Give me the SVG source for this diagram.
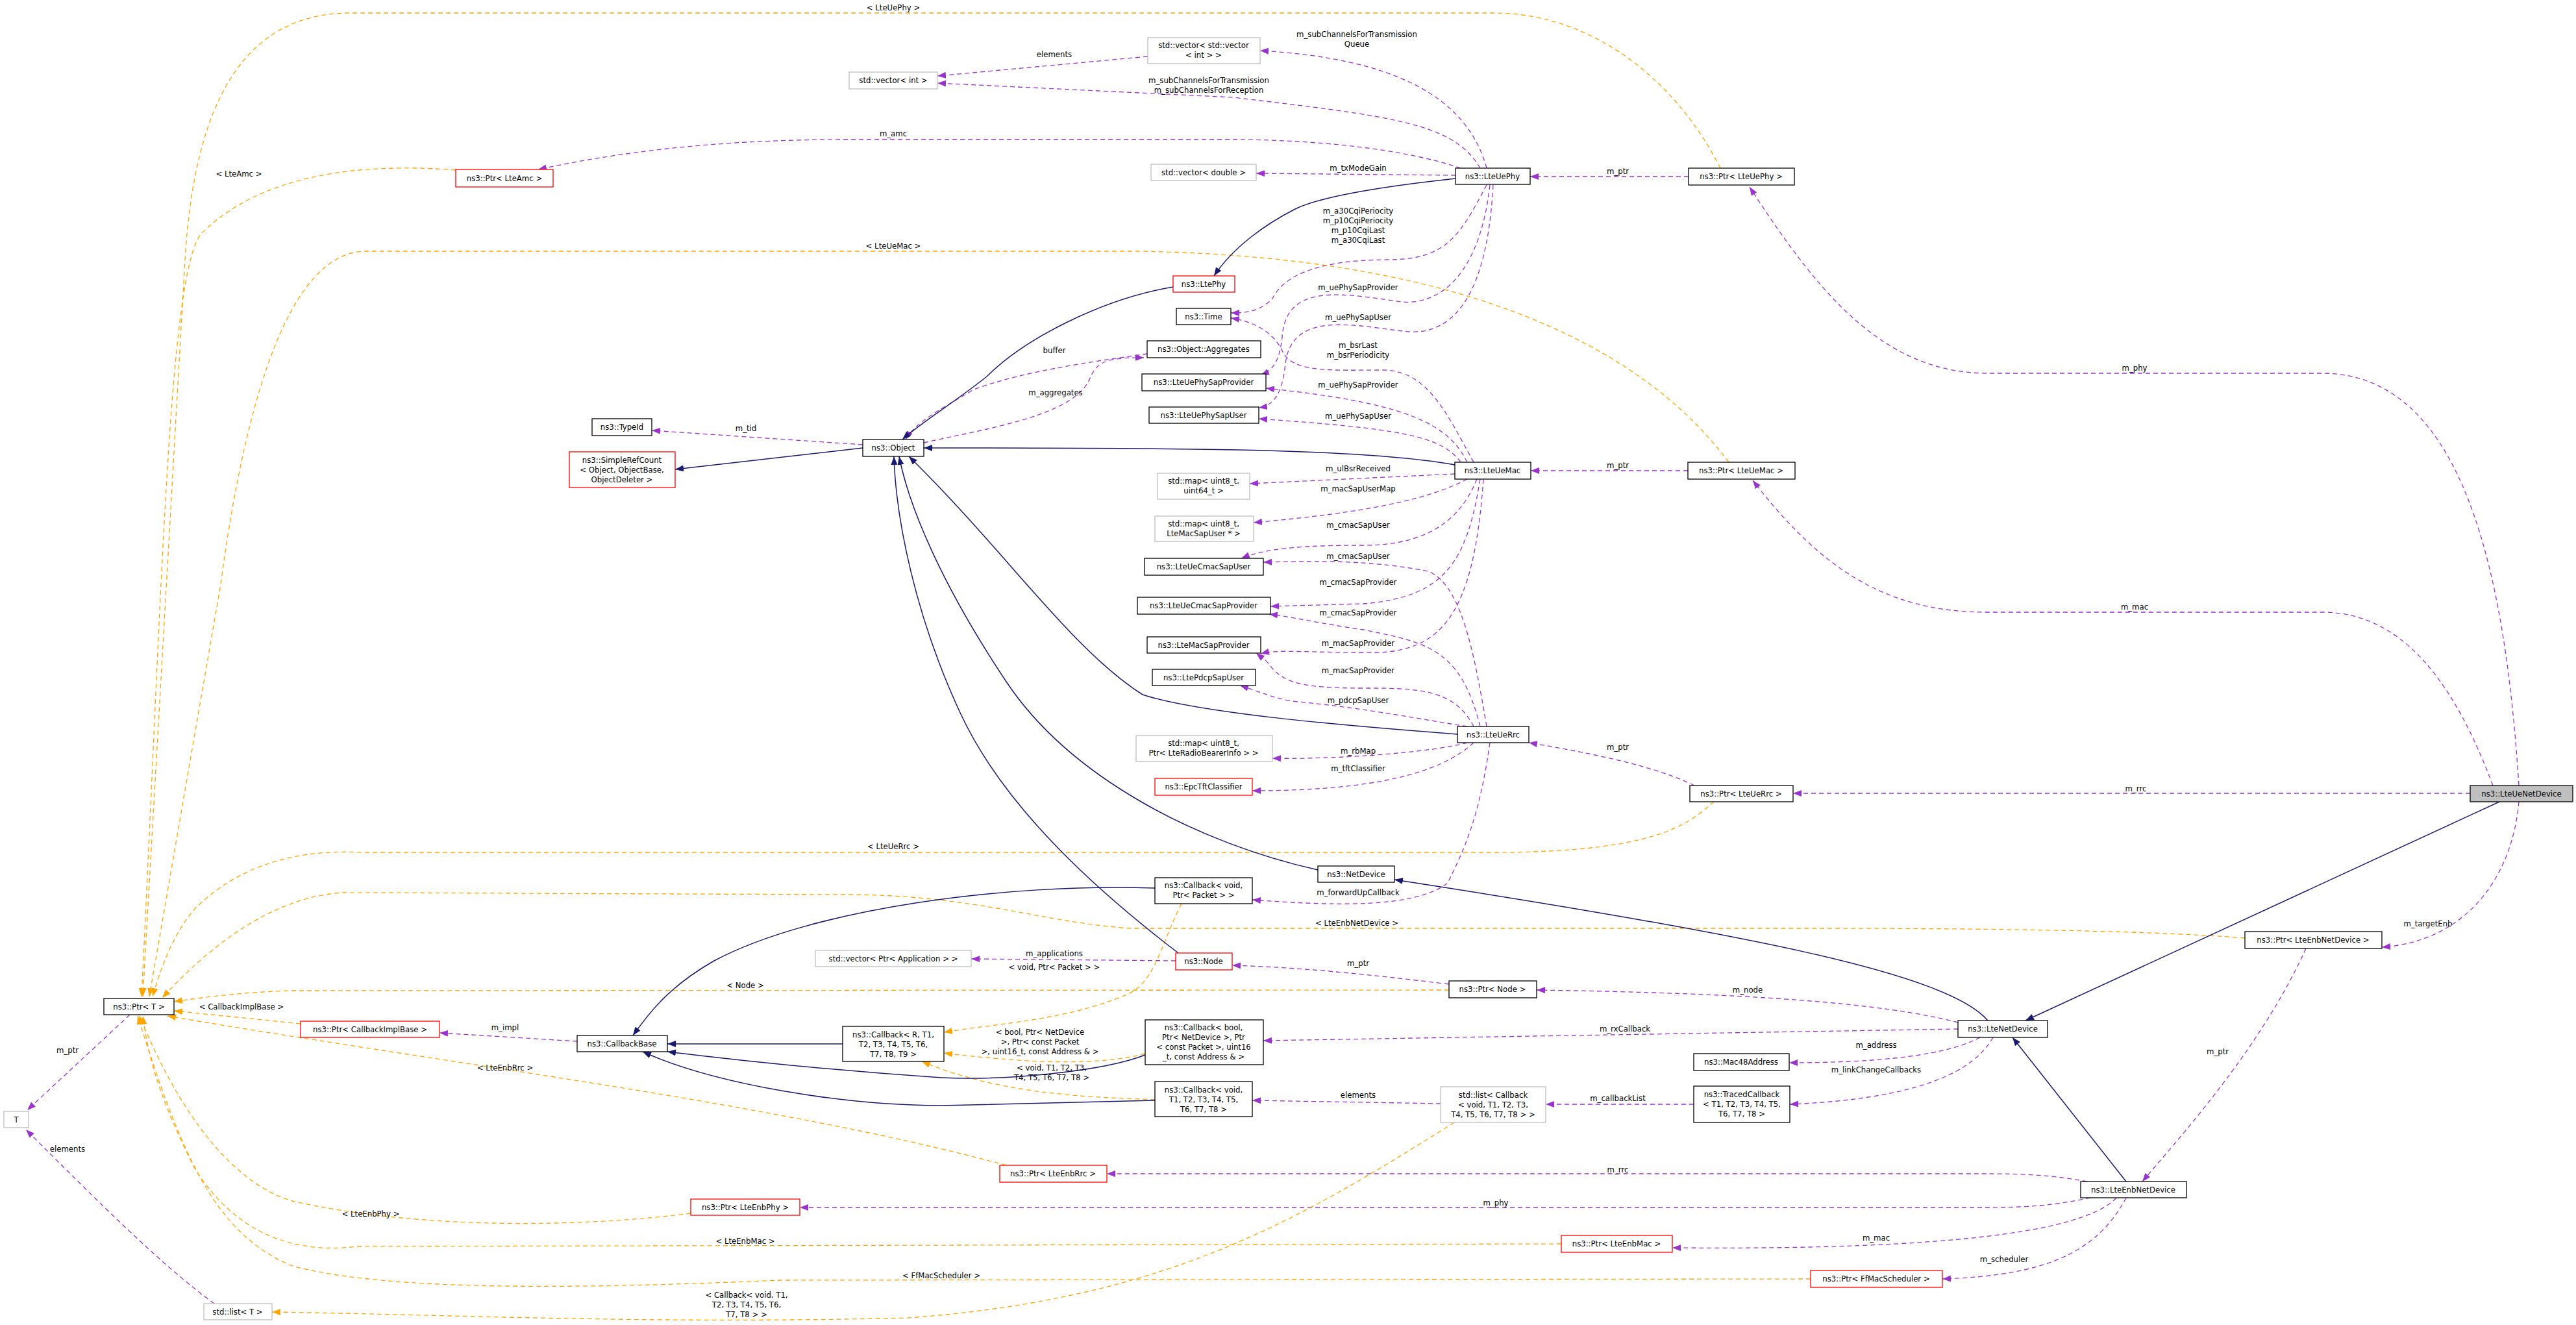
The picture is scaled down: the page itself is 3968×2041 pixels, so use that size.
<svg xmlns="http://www.w3.org/2000/svg" width="3968" height="2041" viewBox="0 0 3968 2041">
<style>
text{font-family:"DejaVu Sans Condensed","DejaVu Sans",sans-serif;font-size:13px;fill:#000;text-anchor:middle}
.n rect{fill:#fff;stroke:#000;stroke-width:1.3}
.g rect{stroke:#bfbfbf}
.r rect{stroke:#ff0000}
.p{fill:none;stroke:#9a32cd;stroke-width:1.3;stroke-dasharray:7,5;marker-end:url(#ap)}
.o{fill:none;stroke:#ffa500;stroke-width:1.3;stroke-dasharray:7,5;marker-end:url(#ao)}
.b{fill:none;stroke:#191970;stroke-width:1.5;marker-end:url(#ab)}
</style>
<defs>
<marker id="ap" markerUnits="userSpaceOnUse" markerWidth="14" markerHeight="11" refX="13" refY="5" orient="auto"><path d="M0,0L13,5L0,10z" fill="#9a32cd"/></marker>
<marker id="ao" markerUnits="userSpaceOnUse" markerWidth="14" markerHeight="11" refX="13" refY="5" orient="auto"><path d="M0,0L13,5L0,10z" fill="#ffa500"/></marker>
<marker id="ab" markerUnits="userSpaceOnUse" markerWidth="14" markerHeight="11" refX="13" refY="5" orient="auto"><path d="M0,0L13,5L0,10z" fill="#191970"/></marker>
</defs>
<rect width="3968" height="2041" fill="#fff"/>
<g id="edges">
<path class="p" d="M2290,259C2260,150 2150,90 1941,78"/>
<path class="p" d="M1768,87L1444,117"/>
<path class="p" d="M2280,259C2240,190 2150,180 1900,150L1444,128"/>
<path class="p" d="M2250,259C2150,225 2000,215 1900,215L1300,215C1100,215 950,235 829,261"/>
<path class="p" d="M2242,270L1935,267"/>
<path class="p" d="M2601,272L2357,272"/>
<path class="p" d="M2290,285C2250,360 2230,400 2140,400C2000,400 1970,440 1960,460C1940,480 1920,482 1896,482"/>
<path class="p" d="M2295,285C2280,420 2220,470 2160,465C2080,455 1980,430 1975,520C1970,560 1960,570 1942,578"/>
<path class="p" d="M2300,285C2290,470 2230,520 2160,510C2080,500 1990,480 1980,560C1975,610 1960,625 1939,628"/>
<path class="p" d="M2270,712C2230,640 2200,570 2130,570C2050,570 1990,575 1975,540C1960,510 1930,495 1896,490"/>
<path class="p" d="M2260,712C2230,650 2160,620 1950,598"/>
<path class="p" d="M2250,712C2220,670 2150,660 1939,645"/>
<path class="p" d="M1423,682C1520,660 1660,640 1680,580C1690,560 1700,550 1762,551"/>
<path class="p" d="M1767,545C1700,555 1580,570 1500,600C1450,630 1410,650 1395,677"/>
<path class="p" d="M1329,685L1004,663"/>
<path class="p" d="M2600,725L2358,725"/>
<path class="p" d="M2241,730L1925,745"/>
<path class="p" d="M2260,738C2200,770 2100,790 1931,805"/>
<path class="p" d="M2275,738C2250,800 2200,840 2100,840C2000,840 1950,845 1912,860"/>
<path class="p" d="M2290,1119C2270,1000 2250,900 2200,880C2100,860 2000,865 1946,866"/>
<path class="p" d="M2280,738C2260,860 2230,920 2100,930L1957,934"/>
<path class="p" d="M2280,1119C2250,1000 2200,990 2100,970C2030,960 1990,950 1955,946"/>
<path class="p" d="M2285,738C2270,950 2220,1010 2100,1005C2000,1005 1970,1000 1942,1007"/>
<path class="p" d="M2270,1119C2240,1060 2180,1060 2100,1060C2000,1060 1980,1050 1960,1030C1950,1015 1940,1010 1935,1006"/>
<path class="p" d="M2260,1119C2200,1110 2100,1090 1990,1080C1960,1075 1940,1065 1910,1056"/>
<path class="p" d="M2610,1210C2550,1180 2450,1160 2355,1144"/>
<path class="p" d="M2260,1144C2200,1160 2050,1170 1960,1168"/>
<path class="p" d="M2270,1144C2220,1190 2120,1218 1929,1218"/>
<path class="p" d="M2295,1144C2280,1250 2260,1300 2230,1360C2180,1400 2050,1395 1929,1386"/>
<path class="p" d="M2232,1516C2100,1500 2000,1490 1898,1487"/>
<path class="p" d="M1811,1480L1496,1477"/>
<path class="p" d="M3016,1575C2900,1545 2700,1530 2367,1525"/>
<path class="p" d="M3016,1585L1946,1603"/>
<path class="p" d="M3050,1598C3000,1625 2900,1637 2756,1637"/>
<path class="p" d="M3070,1598C3030,1670 2900,1695 2757,1701"/>
<path class="p" d="M2609,1701L2381,1701"/>
<path class="p" d="M2219,1700L1929,1695"/>
<path class="p" d="M889,1604L677,1591"/>
<path class="p" d="M3215,1820C3150,1808 3100,1808 3050,1808L1705,1808"/>
<path class="p" d="M3220,1845C3150,1860 3100,1860 3050,1860L1232,1860"/>
<path class="p" d="M3260,1845C3200,1910 2900,1925 2576,1922"/>
<path class="p" d="M3275,1845C3230,1930 3150,1965 2992,1970"/>
<path class="p" d="M3552,1461C3480,1620 3350,1760 3300,1820"/>
<path class="p" d="M3880,1235C3870,1350 3800,1450 3669,1459"/>
<path class="p" d="M3805,1222L2762,1222"/>
<path class="p" d="M3880,1210C3860,900 3800,575 3577,575L3062,575C2900,575 2800,450 2695,288"/>
<path class="p" d="M3840,1210C3780,1050 3700,943 3577,943L3060,943C2900,943 2800,870 2700,740"/>
<path class="p" d="M200,1563L42,1710"/>
<path class="p" d="M330,2008C250,1950 150,1850 40,1740"/>
<path class="o" d="M2650,259C2580,120 2450,20 2300,20L540,20C380,20 300,150 285,400L220,1535"/>
<path class="o" d="M702,262C550,250 400,270 310,360C260,420 250,900 218,1535"/>
<path class="o" d="M2663,712C2550,560 2300,395 1750,387L564,387C450,387 380,600 340,900L230,1535"/>
<path class="o" d="M2640,1235C2600,1270 2550,1313 2300,1313L560,1313C430,1306 350,1350 300,1400C265,1440 245,1500 235,1535"/>
<path class="o" d="M3458,1445C3300,1432 3000,1430 2800,1430L1740,1430C1600,1420 1500,1378 1300,1378L530,1375C420,1380 320,1460 250,1537"/>
<path class="o" d="M1820,1392C1790,1450 1780,1510 1740,1530C1650,1570 1550,1575 1454,1590"/>
<path class="o" d="M2232,1525L450,1526C380,1528 320,1535 268,1543"/>
<path class="o" d="M463,1577L268,1557"/>
<path class="o" d="M1550,1795C1200,1700 700,1640 258,1565"/>
<path class="o" d="M1064,1869C900,1890 650,1895 450,1850C350,1820 270,1700 215,1565"/>
<path class="o" d="M2405,1916L550,1920C430,1935 350,1880 300,1800C250,1700 230,1640 220,1565"/>
<path class="o" d="M2789,1970L1200,1972C900,1985 600,1990 450,1950C330,1900 280,1780 212,1565"/>
<path class="o" d="M2240,1729C2000,1880 1800,2000 1400,2030C1000,2040 700,2025 419,2021"/>
<path class="o" d="M1764,1623C1700,1640 1600,1640 1454,1622"/>
<path class="o" d="M1779,1694C1700,1690 1550,1690 1420,1635"/>
<path class="b" d="M2242,275C2150,285 2040,300 1995,322C1950,345 1900,380 1870,425"/>
<path class="b" d="M1807,442C1700,460 1580,520 1520,580C1470,620 1420,650 1390,677"/>
<path class="b" d="M2241,716C2100,690 1800,690 1423,690"/>
<path class="b" d="M2245,1131C2100,1120 1850,1100 1760,1070C1650,1000 1550,850 1400,703"/>
<path class="b" d="M2030,1340C1850,1300 1650,1200 1550,1050C1450,900 1400,780 1385,703"/>
<path class="b" d="M1815,1468C1700,1380 1550,1250 1480,1100C1410,950 1380,800 1377,703"/>
<path class="b" d="M3850,1235L3120,1572"/>
<path class="b" d="M3062,1572C3000,1500 2700,1440 2148,1355"/>
<path class="b" d="M3275,1820L3100,1598"/>
<path class="b" d="M1329,690L1040,723"/>
<path class="b" d="M1779,1368C1550,1360 1250,1400 1100,1480C1030,1520 1000,1560 975,1595"/>
<path class="b" d="M1298,1608L1028,1608"/>
<path class="b" d="M1764,1625C1700,1650 1550,1665 1450,1660C1300,1650 1150,1635 1028,1620"/>
<path class="b" d="M1779,1695L1450,1703C1300,1703 1100,1670 990,1620"/>
</g>
<g id="edge-labels">
<text x="2090" y="57">m_subChannelsForTransmission</text><text x="2090" y="72">Queue</text>
<text x="1624" y="88">elements</text>
<text x="1862" y="128">m_subChannelsForTransmission</text><text x="1862" y="143">m_subChannelsForReception</text>
<text x="1376" y="210">m_amc</text>
<text x="2092" y="263">m_txModeGain</text>
<text x="2492" y="268">m_ptr</text>
<text x="2092" y="329">m_a30CqiPeriocity</text><text x="2092" y="344">m_p10CqiPeriocity</text><text x="2092" y="359">m_p10CqiLast</text><text x="2092" y="374">m_a30CqiLast</text>
<text x="2092" y="447">m_uePhySapProvider</text>
<text x="2092" y="493">m_uePhySapUser</text>
<text x="2092" y="536">m_bsrLast</text><text x="2092" y="551">m_bsrPeriodicity</text>
<text x="2092" y="597">m_uePhySapProvider</text>
<text x="2092" y="645">m_uePhySapUser</text>
<text x="1624" y="544">buffer</text>
<text x="1626" y="609">m_aggregates</text>
<text x="1149" y="664">m_tid</text>
<text x="2492" y="721">m_ptr</text>
<text x="2092" y="726">m_ulBsrReceived</text>
<text x="2092" y="757">m_macSapUserMap</text>
<text x="2092" y="813">m_cmacSapUser</text>
<text x="2092" y="861">m_cmacSapUser</text>
<text x="2092" y="901">m_cmacSapProvider</text>
<text x="2092" y="948">m_cmacSapProvider</text>
<text x="2092" y="995">m_macSapProvider</text>
<text x="2092" y="1037">m_macSapProvider</text>
<text x="2092" y="1083">m_pdcpSapUser</text>
<text x="2492" y="1155">m_ptr</text>
<text x="2092" y="1161">m_rbMap</text>
<text x="2092" y="1188">m_tftClassifier</text>
<text x="2092" y="1379">m_forwardUpCallback</text>
<text x="2092" y="1488">m_ptr</text>
<text x="1624" y="1473">m_applications</text>
<text x="2692" y="1529">m_node</text>
<text x="2503" y="1589">m_rxCallback</text>
<text x="2890" y="1614">m_address</text>
<text x="2890" y="1652">m_linkChangeCallbacks</text>
<text x="2492" y="1696">m_callbackList</text>
<text x="2092" y="1691">elements</text>
<text x="778" y="1587">m_impl</text>
<text x="2492" y="1806">m_rrc</text>
<text x="2304" y="1857">m_phy</text>
<text x="2890" y="1911">m_mac</text>
<text x="3087" y="1944">m_scheduler</text>
<text x="3416" y="1624">m_ptr</text>
<text x="3740" y="1427">m_targetEnb</text>
<text x="3290" y="1219">m_rrc</text>
<text x="3288" y="571">m_phy</text>
<text x="3288" y="939">m_mac</text>
<text x="104" y="1622">m_ptr</text>
<text x="104" y="1774">elements</text>
<text x="1376" y="16">&lt; LteUePhy &gt;</text>
<text x="368" y="272">&lt; LteAmc &gt;</text>
<text x="1376" y="383">&lt; LteUeMac &gt;</text>
<text x="1376" y="1308">&lt; LteUeRrc &gt;</text>
<text x="2090" y="1426">&lt; LteEnbNetDevice &gt;</text>
<text x="1624" y="1494">&lt; void, Ptr&lt; Packet &gt; &gt;</text>
<text x="1148" y="1522">&lt; Node &gt;</text>
<text x="372" y="1555">&lt; CallbackImplBase &gt;</text>
<text x="778" y="1649">&lt; LteEnbRrc &gt;</text>
<text x="571" y="1874">&lt; LteEnbPhy &gt;</text>
<text x="1148" y="1916">&lt; LteEnbMac &gt;</text>
<text x="1450" y="1969">&lt; FfMacScheduler &gt;</text>
<text x="1150" y="1999">&lt; Callback&lt; void, T1,</text><text x="1150" y="2014">T2, T3, T4, T5, T6,</text><text x="1150" y="2029">T7, T8 &gt; &gt;</text>
<text x="1602" y="1594">&lt; bool, Ptr&lt; NetDevice</text><text x="1602" y="1609">&gt;, Ptr&lt; const Packet</text><text x="1602" y="1624">&gt;, uint16_t, const Address &amp; &gt;</text>
<text x="1620" y="1649">&lt; void, T1, T2, T3,</text><text x="1620" y="1664">T4, T5, T6, T7, T8 &gt;</text>
</g>
<g id="LteUeNetDevice" class="n"><rect x="3805" y="1210" width="158" height="25" style="fill:#bfbfbf"/><text x="3884" y="1227">ns3::LteUeNetDevice</text></g>
<g id="vecvec" class="n g"><rect x="1768" y="58" width="173" height="40"/><text x="1854" y="74">std::vector&lt; std::vector</text><text x="1854" y="89">&lt; int &gt; &gt;</text></g>
<g id="vecint" class="n g"><rect x="1308" y="111" width="136" height="26"/><text x="1376" y="128">std::vector&lt; int &gt;</text></g>
<g id="vecdouble" class="n g"><rect x="1773" y="253" width="162" height="25"/><text x="1854" y="270">std::vector&lt; double &gt;</text></g>
<g id="LteUePhy" class="n"><rect x="2242" y="259" width="115" height="25"/><text x="2299" y="276">ns3::LteUePhy</text></g>
<g id="LtePhy" class="n r"><rect x="1807" y="425" width="95" height="25"/><text x="1854" y="442">ns3::LtePhy</text></g>
<g id="Time" class="n"><rect x="1812" y="475" width="84" height="25"/><text x="1854" y="492">ns3::Time</text></g>
<g id="Aggregates" class="n"><rect x="1767" y="525" width="175" height="26"/><text x="1854" y="542">ns3::Object::Aggregates</text></g>
<g id="LteUePhySapProvider" class="n"><rect x="1759" y="576" width="191" height="26"/><text x="1854" y="593">ns3::LteUePhySapProvider</text></g>
<g id="LteUePhySapUser" class="n"><rect x="1770" y="627" width="169" height="25"/><text x="1854" y="644">ns3::LteUePhySapUser</text></g>
<g id="Object" class="n"><rect x="1329" y="677" width="94" height="26"/><text x="1376" y="694">ns3::Object</text></g>
<g id="TypeId" class="n"><rect x="912" y="645" width="92" height="26"/><text x="958" y="662">ns3::TypeId</text></g>
<g id="SimpleRefCount" class="n r"><rect x="877" y="696" width="163" height="55"/><text x="958" y="713">ns3::SimpleRefCount</text><text x="958" y="728">&lt; Object, ObjectBase,</text><text x="958" y="743">ObjectDeleter &gt;</text></g>
<g id="PtrLteAmc" class="n r"><rect x="702" y="261" width="150" height="27"/><text x="777" y="279">ns3::Ptr&lt; LteAmc &gt;</text></g>
<g id="LteUeMac" class="n"><rect x="2241" y="712" width="117" height="26"/><text x="2299" y="729">ns3::LteUeMac</text></g>
<g id="map64" class="n g"><rect x="1783" y="729" width="142" height="40"/><text x="1854" y="745">std::map&lt; uint8_t,</text><text x="1854" y="760">uint64_t &gt;</text></g>
<g id="mapMacSapUser" class="n g"><rect x="1779" y="795" width="152" height="39"/><text x="1854" y="811">std::map&lt; uint8_t,</text><text x="1854" y="826">LteMacSapUser * &gt;</text></g>
<g id="LteUeCmacSapUser" class="n"><rect x="1763" y="860" width="183" height="26"/><text x="1854" y="877">ns3::LteUeCmacSapUser</text></g>
<g id="LteUeCmacSapProvider" class="n"><rect x="1752" y="920" width="205" height="26"/><text x="1854" y="937">ns3::LteUeCmacSapProvider</text></g>
<g id="LteMacSapProvider" class="n"><rect x="1767" y="981" width="175" height="25"/><text x="1854" y="998">ns3::LteMacSapProvider</text></g>
<g id="LtePdcpSapUser" class="n"><rect x="1775" y="1031" width="159" height="25"/><text x="1854" y="1048">ns3::LtePdcpSapUser</text></g>
<g id="LteUeRrc" class="n"><rect x="2245" y="1119" width="110" height="25"/><text x="2300" y="1136">ns3::LteUeRrc</text></g>
<g id="mapRB" class="n g"><rect x="1750" y="1133" width="210" height="40"/><text x="1854" y="1149">std::map&lt; uint8_t,</text><text x="1854" y="1164">Ptr&lt; LteRadioBearerInfo &gt; &gt;</text></g>
<g id="EpcTftClassifier" class="n r"><rect x="1779" y="1199" width="150" height="26"/><text x="1854" y="1216">ns3::EpcTftClassifier</text></g>
<g id="PtrLteUePhy" class="n"><rect x="2601" y="259" width="163" height="26"/><text x="2682" y="276">ns3::Ptr&lt; LteUePhy &gt;</text></g>
<g id="PtrLteUeMac" class="n"><rect x="2600" y="712" width="165" height="26"/><text x="2682" y="729">ns3::Ptr&lt; LteUeMac &gt;</text></g>
<g id="PtrLteUeRrc" class="n"><rect x="2603" y="1210" width="159" height="25"/><text x="2682" y="1227">ns3::Ptr&lt; LteUeRrc &gt;</text></g>
<g id="NetDevice" class="n"><rect x="2030" y="1334" width="118" height="25"/><text x="2089" y="1351">ns3::NetDevice</text></g>
<g id="CbPacket" class="n"><rect x="1779" y="1352" width="150" height="40"/><text x="1854" y="1368">ns3::Callback&lt; void,</text><text x="1854" y="1383">Ptr&lt; Packet &gt; &gt;</text></g>
<g id="Node" class="n r"><rect x="1811" y="1468" width="87" height="26"/><text x="1854" y="1485">ns3::Node</text></g>
<g id="vecApp" class="n g"><rect x="1256" y="1464" width="240" height="25"/><text x="1376" y="1481">std::vector&lt; Ptr&lt; Application &gt; &gt;</text></g>
<g id="PtrNode" class="n"><rect x="2232" y="1511" width="135" height="26"/><text x="2299" y="1528">ns3::Ptr&lt; Node &gt;</text></g>
<g id="CbR" class="n"><rect x="1298" y="1581" width="156" height="54"/><text x="1376" y="1598">ns3::Callback&lt; R, T1,</text><text x="1376" y="1613">T2, T3, T4, T5, T6,</text><text x="1376" y="1628">T7, T8, T9 &gt;</text></g>
<g id="CbBool" class="n"><rect x="1764" y="1571" width="182" height="69"/><text x="1854" y="1587">ns3::Callback&lt; bool,</text><text x="1854" y="1602">Ptr&lt; NetDevice &gt;, Ptr</text><text x="1854" y="1617">&lt; const Packet &gt;, uint16</text><text x="1854" y="1632">_t, const Address &amp; &gt;</text></g>
<g id="CbVoid8" class="n"><rect x="1779" y="1666" width="150" height="54"/><text x="1854" y="1683">ns3::Callback&lt; void,</text><text x="1854" y="1698">T1, T2, T3, T4, T5,</text><text x="1854" y="1713">T6, T7, T8 &gt;</text></g>
<g id="listCb" class="n g"><rect x="2219" y="1674" width="162" height="55"/><text x="2300" y="1691">std::list&lt; Callback</text><text x="2300" y="1706">&lt; void, T1, T2, T3,</text><text x="2300" y="1721">T4, T5, T6, T7, T8 &gt; &gt;</text></g>
<g id="PtrLteEnbRrc" class="n r"><rect x="1540" y="1795" width="165" height="26"/><text x="1622" y="1812">ns3::Ptr&lt; LteEnbRrc &gt;</text></g>
<g id="PtrLteEnbMac" class="n r"><rect x="2405" y="1903" width="171" height="26"/><text x="2490" y="1920">ns3::Ptr&lt; LteEnbMac &gt;</text></g>
<g id="PtrLteEnbNetDevice" class="n"><rect x="3458" y="1435" width="211" height="26"/><text x="3563" y="1452">ns3::Ptr&lt; LteEnbNetDevice &gt;</text></g>
<g id="LteNetDevice" class="n"><rect x="3016" y="1572" width="138" height="26"/><text x="3085" y="1589">ns3::LteNetDevice</text></g>
<g id="Mac48Address" class="n"><rect x="2609" y="1623" width="147" height="26"/><text x="2682" y="1640">ns3::Mac48Address</text></g>
<g id="TracedCallback" class="n"><rect x="2609" y="1673" width="148" height="56"/><text x="2683" y="1690">ns3::TracedCallback</text><text x="2683" y="1705">&lt; T1, T2, T3, T4, T5,</text><text x="2683" y="1720">T6, T7, T8 &gt;</text></g>
<g id="LteEnbNetDevice" class="n"><rect x="3205" y="1820" width="163" height="25"/><text x="3286" y="1837">ns3::LteEnbNetDevice</text></g>
<g id="PtrFfMacScheduler" class="n r"><rect x="2789" y="1957" width="203" height="26"/><text x="2890" y="1974">ns3::Ptr&lt; FfMacScheduler &gt;</text></g>
<g id="PtrT" class="n"><rect x="160" y="1538" width="108" height="25"/><text x="214" y="1555">ns3::Ptr&lt; T &gt;</text></g>
<g id="PtrCallbackImplBase" class="n r"><rect x="463" y="1573" width="214" height="25"/><text x="570" y="1590">ns3::Ptr&lt; CallbackImplBase &gt;</text></g>
<g id="CallbackBase" class="n"><rect x="889" y="1595" width="139" height="25"/><text x="958" y="1612">ns3::CallbackBase</text></g>
<g id="T" class="n g"><rect x="6" y="1712" width="38" height="25"/><text x="25" y="1729">T</text></g>
<g id="PtrLteEnbPhy" class="n r"><rect x="1064" y="1847" width="168" height="25"/><text x="1148" y="1864">ns3::Ptr&lt; LteEnbPhy &gt;</text></g>
<g id="listT" class="n g"><rect x="314" y="2008" width="105" height="25"/><text x="366" y="2025">std::list&lt; T &gt;</text></g>
</svg>
